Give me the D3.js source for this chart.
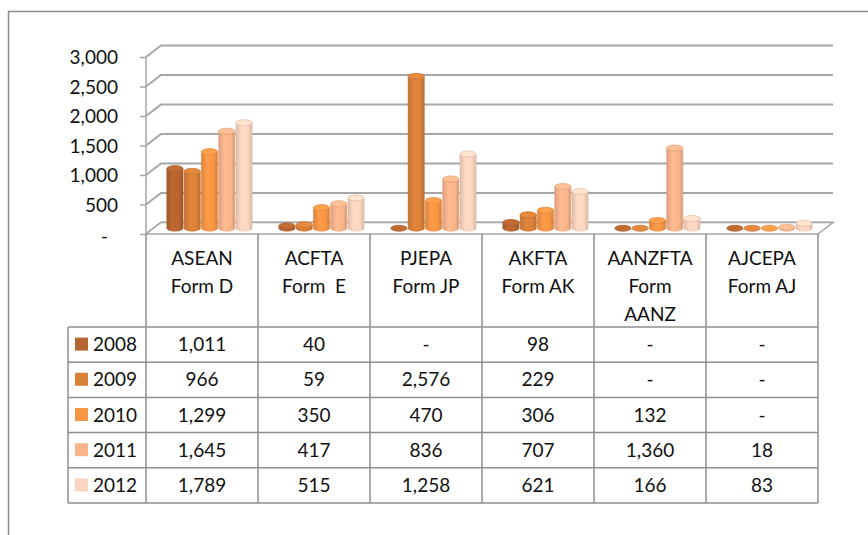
<!DOCTYPE html>
<html>
<head>
<meta charset="utf-8">
<script src="https://cdn.jsdelivr.net/npm/d3@7"></script>
<style>
  body { margin: 0; background: #fff; }
  svg text { font-family: Lato, "Open Sans", sans-serif; fill: #111; }
</style>
</head>
<body>
<div id="chart"></div>
<script>
// categories (header lines), years and values per year
var categories = ['ASEAN Form D', 'ACFTA Form E', 'PJEPA Form JP', 'AKFTA Form AK', 'AANZFTA Form AANZ', 'AJCEPA Form AJ'];
var categoryLines = [['ASEAN', 'Form D'], ['ACFTA', 'Form  E'], ['PJEPA', 'Form JP'], ['AKFTA', 'Form AK'], ['AANZFTA', 'Form', 'AANZ'], ['AJCEPA', 'Form AJ']];
var years = ['2008', '2009', '2010', '2011', '2012'];
var values2008 = [1011, 40, null, 98, null, null];
var values2009 = [966, 59, 2576, 229, null, null];
var values2010 = [1299, 350, 470, 306, 132, null];
var values2011 = [1645, 417, 836, 707, 1360, 18];
var values2012 = [1789, 515, 1258, 621, 166, 83];
var yTicks = [0, 500, 1000, 1500, 2000, 2500, 3000];
var colors = ['#b5652e', '#d98039', '#f79646', '#f9b48b', '#fbd5c0'];

var series = [values2008, values2009, values2010, values2011, values2012];

var width = 868, height = 535;
var depthX = 15, depthY = -11.5;

var svg = d3.select('#chart').append('svg')
  .attr('width', width)
  .attr('height', height);

// outer frame
svg.append('rect')
  .attr('x', 8.5).attr('y', 11.5)
  .attr('width', 960).attr('height', 600)
  .attr('fill', 'none')
  .attr('stroke', '#8c8c8c')
  .attr('stroke-width', 1.5);

var x = d3.scaleBand().domain(categories).range([146, 818]);
var xInner = d3.scaleBand().domain(years).range([0, x.bandwidth()])
  .paddingInner(0.06).paddingOuter(0.77);
var yFront = d3.scaleLinear().domain([0, 3000]).range([234, 57]);
var yBar = d3.scaleLinear().domain([0, 3000]).range([234 + depthY / 2, 57 + depthY / 2]);

var defs = svg.append('defs');
colors.forEach(function(c, i) {
  var g = defs.append('linearGradient').attr('id', 'cyl' + i)
    .attr('x1', 0).attr('x2', 1).attr('y1', 0).attr('y2', 0);
  g.append('stop').attr('offset', '0%').attr('stop-color', d3.color(c).darker(0.35));
  g.append('stop').attr('offset', '35%').attr('stop-color', d3.color(c).brighter(0.1));
  g.append('stop').attr('offset', '75%').attr('stop-color', c);
  g.append('stop').attr('offset', '100%').attr('stop-color', d3.color(c).darker(0.4));
});

// back wall + left wall gridlines
var grid = svg.append('g').attr('class', 'grid');
yTicks.forEach(function(t) {
  var yf = yFront(t);
  grid.append('path')
    .attr('d', 'M146,' + yf + 'L' + (146 + depthX) + ',' + (yf + depthY) + 'L' + (818 + depthX) + ',' + (yf + depthY))
    .attr('fill', 'none')
    .attr('stroke', '#a6a6a6')
    .attr('stroke-width', 2);
});

// floor
svg.append('path')
  .attr('d', 'M146,234L818,234L' + (818 + depthX) + ',' + (234 + depthY) + 'L' + (146 + depthX) + ',' + (234 + depthY) + 'Z')
  .attr('fill', '#fff')
  .attr('stroke', '#a6a6a6')
  .attr('stroke-width', 1.5);

// y axis (front)
svg.append('line')
  .attr('x1', 146).attr('x2', 146)
  .attr('y1', yFront(3000)).attr('y2', 234)
  .attr('stroke', '#a6a6a6').attr('stroke-width', 1.5);
var yAxis = d3.axisLeft(yFront).tickValues(yTicks).tickSize(6).tickPadding(22)
  .tickFormat(function(d) { return d === 0 ? '-' : d3.format(',')(d); });
var yAxisGroup = svg.append('g')
  .attr('transform', 'translate(146,0)')
  .call(yAxis);
yAxisGroup.select('.domain').remove();
yAxisGroup.selectAll('.tick line').attr('stroke', '#a6a6a6').attr('stroke-width', 1.5);
yAxisGroup.selectAll('.tick text')
  .style('font-size', '19px')
  .style('font-family', 'Lato, sans-serif')
  .attr('fill', '#111')
  .attr('dy', '0.35em');
yAxisGroup.selectAll('.tick text').filter(function(d) { return d === 0; })
  .attr('x', -38).attr('dy', '0.45em');

// cylinders
var rx, ry = 3;
var bars = svg.append('g').attr('class', 'bars');
categories.forEach(function(cat, ci) {
  years.forEach(function(yr, si) {
    var v = series[si][ci] || 0;
    var w = xInner.bandwidth();
    rx = w / 2;
    var left = x(cat) + xInner(yr) + depthX / 2;
    var right = left + w;
    var yb = yBar(0);
    var yt = yBar(v);
    if (v > 0) {
      bars.append('path')
        .attr('d', 'M' + left + ',' + yt + 'L' + left + ',' + yb +
          'A' + rx + ',' + ry + ' 0 0 0 ' + right + ',' + yb +
          'L' + right + ',' + yt +
          'A' + rx + ',' + ry + ' 0 0 1 ' + left + ',' + yt + 'Z')
        .attr('fill', 'url(#cyl' + si + ')')
        .attr('stroke', d3.color(colors[si]).darker(0.3))
        .attr('stroke-width', 0.5);
    }
    bars.append('ellipse')
      .attr('cx', left + rx).attr('cy', yt)
      .attr('rx', rx).attr('ry', ry)
      .attr('fill', d3.color(colors[si]).brighter(0.2))
      .attr('stroke', d3.color(colors[si]).darker(0.35))
      .attr('stroke-width', 0.7);
  });
});

// data table
var rowTop = 327, rowBottom = 503;
var rows = d3.scaleBand().domain(years).range([rowTop, rowBottom]);
var tbl = svg.append('g').attr('class', 'table');
var lineColor = '#8e8e8e';

// header verticals
x.domain().forEach(function(cat) {
  tbl.append('line')
    .attr('x1', x(cat)).attr('x2', x(cat))
    .attr('y1', 234).attr('y2', rowBottom)
    .attr('stroke', lineColor).attr('stroke-width', 1.5);
});
tbl.append('line')
  .attr('x1', 818).attr('x2', 818)
  .attr('y1', 234).attr('y2', rowBottom)
  .attr('stroke', lineColor).attr('stroke-width', 1.5);
tbl.append('line')
  .attr('x1', 68).attr('x2', 68)
  .attr('y1', rowTop).attr('y2', rowBottom)
  .attr('stroke', lineColor).attr('stroke-width', 1.5);
// horizontals
years.concat(['end']).forEach(function(yr, i) {
  var yy = i < years.length ? rows(yr) : rowBottom;
  tbl.append('line')
    .attr('x1', 68).attr('x2', 818)
    .attr('y1', yy).attr('y2', yy)
    .attr('stroke', lineColor).attr('stroke-width', 1.5);
});

// header labels
categories.forEach(function(cat, ci) {
  var t = tbl.append('text')
    .attr('x', x(cat) + x.bandwidth() / 2)
    .attr('y', 258)
    .attr('text-anchor', 'middle')
    .style('font-size', '19px');
  categoryLines[ci].forEach(function(line, li) {
    t.append('tspan')
      .attr('x', x(cat) + x.bandwidth() / 2)
      .attr('y', 258 + li * 28)
      .attr('dy', '0.35em')
      .style('white-space', 'pre')
      .text(line);
  });
});

// rows: legend key + values
years.forEach(function(yr, si) {
  var cy = rows(yr) + rows.bandwidth() / 2;
  tbl.append('rect')
    .attr('x', 75).attr('y', cy - 7)
    .attr('width', 13).attr('height', 13)
    .attr('fill', colors[si]);
  tbl.append('text')
    .attr('x', 93).attr('y', cy)
    .attr('dy', '0.35em')
    .style('font-size', '19px')
    .text(yr);
  categories.forEach(function(cat, ci) {
    var v = series[si][ci];
    tbl.append('text')
      .attr('x', x(cat) + x.bandwidth() / 2)
      .attr('y', cy)
      .attr('dy', '0.35em')
      .attr('text-anchor', 'middle')
      .style('font-size', '19px')
      .text(v == null ? '-' : d3.format(',')(v));
  });
});
</script>
</body>
</html>
